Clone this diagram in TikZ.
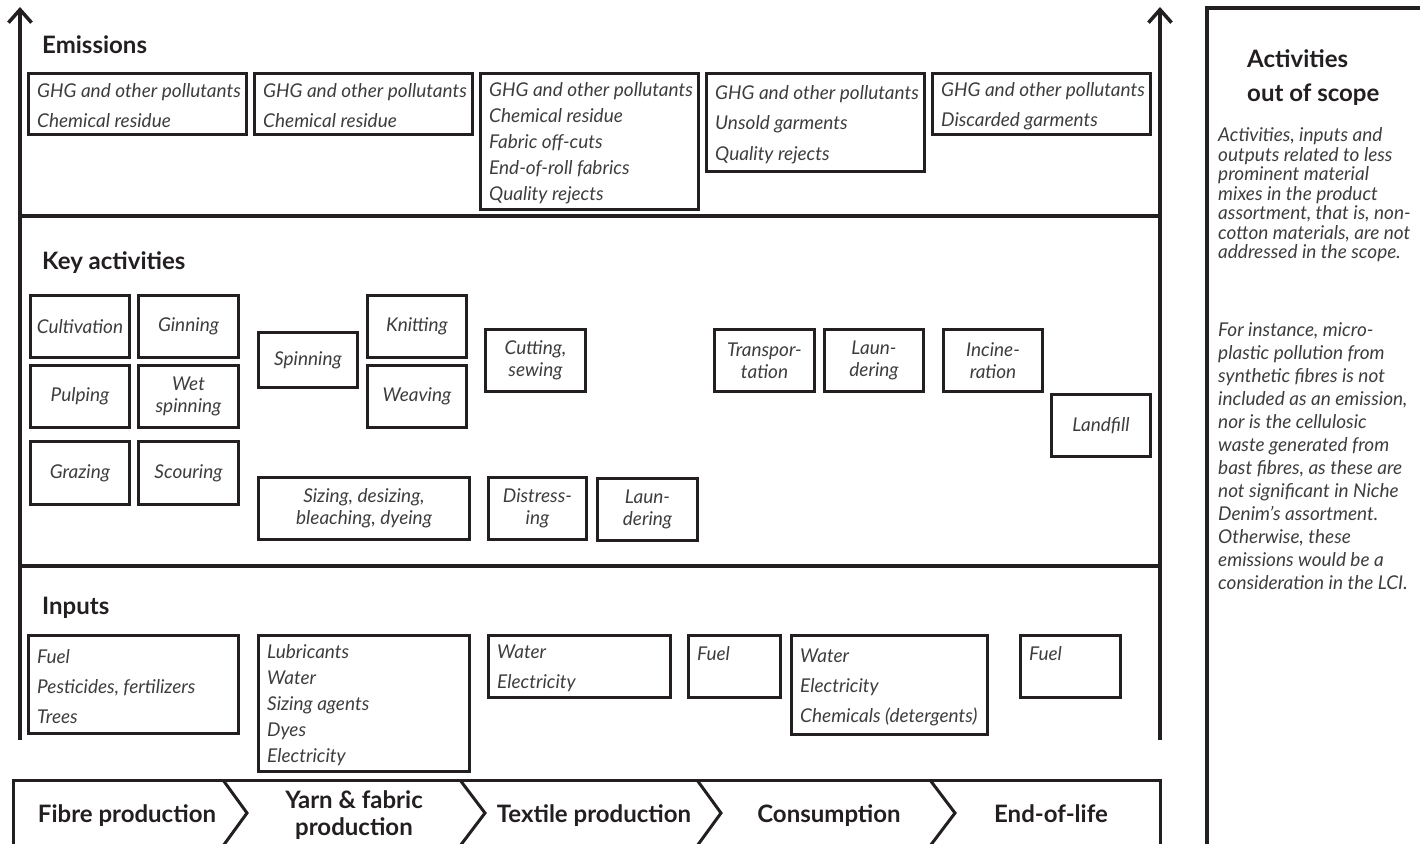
\documentclass[tikz,border=0pt]{standalone}
\usepackage{fontspec}
\setmainfont{Lato}
\usetikzlibrary{arrows.meta}
\definecolor{ink}{HTML}{231F20}
\definecolor{txt}{HTML}{3D3D3D}
\newcommand\bodyfont[1]{\fontsize{19pt}{#1pt}\selectfont\itshape}
\newcommand\headfont{\fontsize{24pt}{27pt}\selectfont\bfseries}
% framed box given by its outer corners: [style]{name}{x1}{y1}{x2}{y2}{text}
\newcommand\bx[7][]{\node[box,#1,minimum width={#5-#3-3},minimum height={#6-#4-3}] (#2) at (#3,#4) {#7};}
\begin{document}
\begin{tikzpicture}[x=1pt,y=-1pt,
  frame/.style={draw=ink, line width=3pt},
  axis/.style={draw=ink, line width=3.5pt, -{Straight Barb[length=13pt,width=23pt]}},
  sep/.style={draw=ink, line width=3.5pt},
  bar/.style={draw=ink, line width=3pt, line join=miter},
  box/.style={frame, inner sep=0pt, anchor=north west},
  abox/.style={box, align=center, text=txt, font=\bodyfont{22}},
  ltxt/.style={inner sep=0pt, align=left, text=txt, anchor=west, yshift=-2pt, font=\bodyfont{#1}},
  head/.style={inner sep=0pt, anchor=base west, text=ink, font=\headfont},
  phase/.style={inner sep=0pt, align=center, text=ink, font=\headfont},
]
\useasboundingbox (0,0) rectangle (1420,843);
\clip (0,0) rectangle (1420,843);

% life-cycle axes and band separators
\coordinate (lb) at (20,740);  \coordinate (lt) at (20,7);
\coordinate (rb) at (1160,740); \coordinate (rt) at (1160,7);
\coordinate (s1l) at (20,216);  \coordinate (s1r) at (1160,216);
\coordinate (s2l) at (20,566);  \coordinate (s2r) at (1160,566);
\draw[axis] (lb) -- (lt);
\draw[axis] (rb) -- (rt);
\draw[sep] (s1l) -- (s1r);
\draw[sep] (s2l) -- (s2r);

% band headings
\node[head] (hem) at (42,53) {Emissions};
\node[head] (hka) at (42,269) {Key activities};
\node[head] (hin) at (42,614) {Inputs};

% emissions
\bx{e1}{27}{72}{248}{136}{}
\bx{e2}{253}{72}{474}{136}{}
\bx{e3}{479}{72}{700}{211}{}
\bx{e4}{705}{72}{926}{173}{}
\bx{e5}{931}{72}{1152}{136}{}
\node[ltxt=30] (e1t) at ([xshift=10pt]e1.west) {GHG and other pollutants\\Chemical residue};
\node[ltxt=30] (e2t) at ([xshift=10pt]e2.west) {GHG and other pollutants\\Chemical residue};
\node[ltxt=26] (e3t) at ([xshift=10pt]e3.west) {GHG and other pollutants\\Chemical residue\\Fabric off-cuts\\End-of-roll fabrics\\Quality rejects};
\node[ltxt=30.5] (e4t) at ([xshift=10pt]e4.west) {GHG and other pollutants\\Unsold garments\\Quality rejects};
\node[ltxt=30] (e5t) at ([xshift=10pt]e5.west) {GHG and other pollutants\\Discarded garments};

% key activities
\bx[abox]{cult}{29}{294}{131}{359}{Cultivation}
\bx[abox]{ginn}{137}{294}{240}{359}{Ginning}
\bx[abox]{pulp}{29}{364}{131}{429}{Pulping}
\bx[abox]{wets}{137}{364}{240}{429}{Wet\\spinning}
\bx[abox]{graz}{29}{440}{131}{506}{Grazing}
\bx[abox]{scou}{137}{440}{240}{506}{Scouring}
\bx[abox]{spin}{257}{331}{359}{389}{Spinning}
\bx[abox]{knit}{366}{294}{468}{359}{Knitting}
\bx[abox]{weav}{366}{364}{468}{429}{Weaving}
\bx[abox]{size}{257}{476}{471}{541}{Sizing, desizing,\\bleaching, dyeing}
\bx[abox]{cuts}{484}{328}{587}{393}{Cutting,\\sewing}
\bx[abox]{dist}{487}{476}{588}{541}{Distress-\\ing}
\bx[abox]{launa}{596}{477}{699}{542}{Laun-\\dering}
\bx[abox]{tran}{713}{328}{816}{393}{Transpor-\\tation}
\bx[abox]{launb}{823}{328}{925}{393}{Laun-\\dering}
\bx[abox]{inci}{942}{328}{1044}{393}{Incine-\\ration}
\bx[abox]{land}{1050}{393}{1152}{458}{Landfill}

% inputs
\bx{i1}{27}{634}{240}{735}{}
\bx{i2}{257}{634}{471}{773}{}
\bx{i3}{487}{634}{672}{699}{}
\bx{i4}{687}{634}{782}{699}{}
\bx{i5}{790}{634}{989}{736}{}
\bx{i6}{1019}{634}{1122}{699}{}
\node[ltxt=30] (i1t) at ([xshift=10pt]i1.west) {Fuel\\Pesticides, fertilizers\\Trees};
\node[ltxt=26] (i2t) at ([xshift=10pt]i2.west) {Lubricants\\Water\\Sizing agents\\Dyes\\Electricity};
\node[ltxt=30] (i3t) at ([xshift=10pt]i3.west) {Water\\Electricity};
\node[ltxt=30, anchor=base west] (i4t) at ([shift={(10pt,-24pt)}]i4.north west) {Fuel};
\node[ltxt=30] (i5t) at ([xshift=10pt]i5.west) {Water\\Electricity\\Chemicals (detergents)};
\node[ltxt=30, anchor=base west] (i6t) at ([shift={(10pt,-24pt)}]i6.north west) {Fuel};

% life-cycle phase bar
\draw[bar] (13,860) |- (1160,780) -- (1160,860);
\draw[bar] (223,780) -- (247,813) -- (223,846);
\draw[bar] (460,780) -- (485,813) -- (460,846);
\draw[bar] (697,780) -- (721,813) -- (697,846);
\draw[bar] (930,780) -- (955,813) -- (930,846);
\node[phase] (p1) at (127,816) {Fibre production};
\node[phase] (p2) at (354,815.5) {Yarn \& fabric\\production};
\node[phase] (p3) at (594,816) {Textile production};
\node[phase] (p4) at (829,816) {Consumption};
\node[phase] (p5) at (1051,814) {End-of-life};

% out-of-scope panel
\draw[frame, line width=3.5pt] (1207,870) -- (1207,8) -- (1440,8);
\node[head] (ot1) at (1247,67) {Activities};
\node[head] (ot2) at (1247,101) {out of scope};
\node[ltxt=19.5] (op1) at (1218,193) {Activities, inputs and\\outputs related to less\\prominent material\\mixes in the product\\assortment, that is, non-\\cotton materials, are not\\addressed in the scope.};
\node[ltxt=23] (op2) at (1218,454) {For instance, micro-\\plastic pollution from\\synthetic fibres is not\\included as an emission,\\nor is the cellulosic\\waste generated from\\bast fibres, as these are\\not significant in Niche\\Denim’s assortment.\\Otherwise, these\\emissions would be a\\consideration in the LCI.};
\end{tikzpicture}
\end{document}
